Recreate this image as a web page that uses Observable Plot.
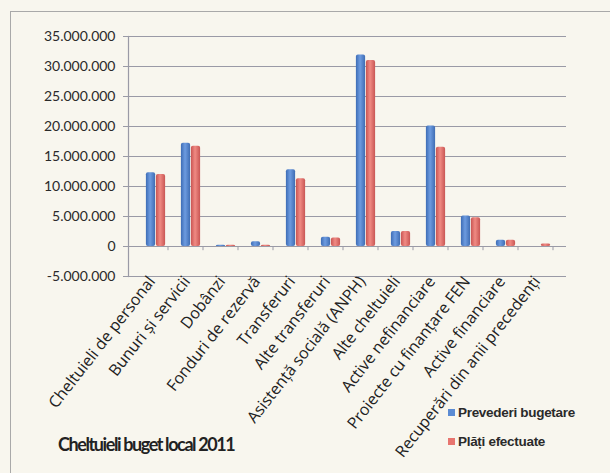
<!DOCTYPE html>
<html><head><meta charset="utf-8">
<script src="https://cdn.jsdelivr.net/npm/d3@7"></script>
<script src="https://cdn.jsdelivr.net/npm/@observablehq/plot@0.6"></script>
<style>
html,body{margin:0;padding:0;background:#f8f6ee;}
#wrap{position:relative;width:610px;height:473px;background:#f8f6ee;overflow:hidden;}
#border{position:absolute;left:10px;top:11px;width:640px;height:500px;border:1.5px solid #a9a9a9;box-sizing:border-box;}
#chart{position:absolute;left:0;top:0;}
#title{position:absolute;left:58px;top:433px;font-family:Lato,sans-serif;font-weight:bold;font-size:18px;letter-spacing:-1.4px;color:#222;white-space:nowrap;}
.leg{position:absolute;left:448px;font-family:"Liberation Sans",Arial,sans-serif;font-weight:bold;font-size:13.5px;letter-spacing:-0.3px;color:#2a2a2a;white-space:nowrap;display:flex;align-items:center;}
.leg span.sw{display:inline-block;width:7px;height:7px;margin-right:3px;}
</style></head>
<body>
<div id="wrap">
  <div id="border"></div>
  <div id="chart"></div>
  <div id="title">Cheltuieli buget local 2011</div>
  <div class="leg" style="top:405px"><span class="sw" style="background:#5b8bd3"></span><span id="l1"></span></div>
  <div class="leg" style="top:434px"><span class="sw" style="background:#e8756f"></span><span id="l2"></span></div>
</div>
<script>
const categories = [
  "Cheltuieli de personal",
  "Bunuri și servicii",
  "Dobânzi",
  "Fonduri de rezervă",
  "Transferuri",
  "Alte transferuri",
  "Asistență socială (ANPH)",
  "Alte cheltuieli",
  "Active nefinanciare",
  "Proiecte cu finanțare FEN",
  "Active financiare",
  "Recuperări din anii precedenți"
];
const seriesNames = ["Prevederi bugetare", "Plăți efectuate"];
const prevederi = [12300000, 17200000, 200000, 800000, 12800000, 1550000, 31900000, 2500000, 20100000, 5100000, 1050000, 0];
const plati     = [12000000, 16700000, 200000, 200000, 11300000, 1400000, 31000000, 2500000, 16550000, 4800000, 1050000, 400000];
const yTicks = [-5000000, 0, 5000000, 10000000, 15000000, 20000000, 25000000, 30000000, 35000000];

document.getElementById("l1").textContent = seriesNames[0];
document.getElementById("l2").textContent = seriesNames[1];

const loc = d3.formatLocale({decimal: ",", thousands: ".", grouping: [3], currency: ["", ""], minus: "-"});
const fmt = loc.format(",d");

const dataA = categories.map((c, i) => ({cat: c, v: prevederi[i]}));
const dataB = categories.map((c, i) => ({cat: c, v: plati[i]}));

const plot = Plot.plot({
  width: 610,
  height: 473,
  marginTop: 36,
  marginBottom: 197,
  marginLeft: 128,
  marginRight: 44,
  style: {background: "transparent", color: "#222"},
  x: {domain: categories, range: [133, 562], padding: 0, axis: null, label: null},
  y: {domain: [-5000000, 35000000], axis: null, label: null},
  marks: [
    Plot.ruleY(yTicks, {stroke: "#9a9aa6", strokeWidth: 1.2}),
    Plot.ruleX(categories, {x: d => d, y1: 0, y2: -700000, dx: 12, stroke: "#9a9aa6"}),
    Plot.frame({anchor: "left", stroke: "#9a9aa6", strokeWidth: 1.2}),
    Plot.barY(dataA, {x: "cat", y: "v", fill: "url(#gBlue)", insetLeft: 7.9, insetRight: 17.9, rx: 2}),
    Plot.barY(dataB, {x: "cat", y: "v", fill: "url(#gRed)", insetLeft: 17.9, insetRight: 7.9, rx: 2}),
    Plot.axisY(yTicks, {tickFormat: fmt, tickSize: 5, tickPadding: 8, fontSize: 14, fontFamily: "Lato", stroke: "#9a9aa6", fill: "#2a2a2a", label: null}),
    Plot.axisX({tickRotate: -52, tickSize: 0, tickPadding: 2, fontSize: 16, fontFamily: "Open Sans", dx: -4, dy: 0, fill: "#222", label: null})
  ]
});

const ns = "http://www.w3.org/2000/svg";
const defs = document.createElementNS(ns, "defs");
function grad(id, stops) {
  const g = document.createElementNS(ns, "linearGradient");
  g.setAttribute("id", id);
  g.setAttribute("x1", "0"); g.setAttribute("x2", "1"); g.setAttribute("y1", "0"); g.setAttribute("y2", "0");
  stops.forEach(([o, c]) => {
    const s = document.createElementNS(ns, "stop");
    s.setAttribute("offset", o); s.setAttribute("stop-color", c);
    g.appendChild(s);
  });
  defs.appendChild(g);
}
grad("gBlue", [["0", "#3d6cb5"], ["0.45", "#6d9be0"], ["1", "#3f6db4"]]);
grad("gRed", [["0", "#c95452"], ["0.45", "#f08a83"], ["1", "#c95654"]]);
plot.insertBefore(defs, plot.firstChild);
document.getElementById("chart").appendChild(plot);
</script>
</body></html>
